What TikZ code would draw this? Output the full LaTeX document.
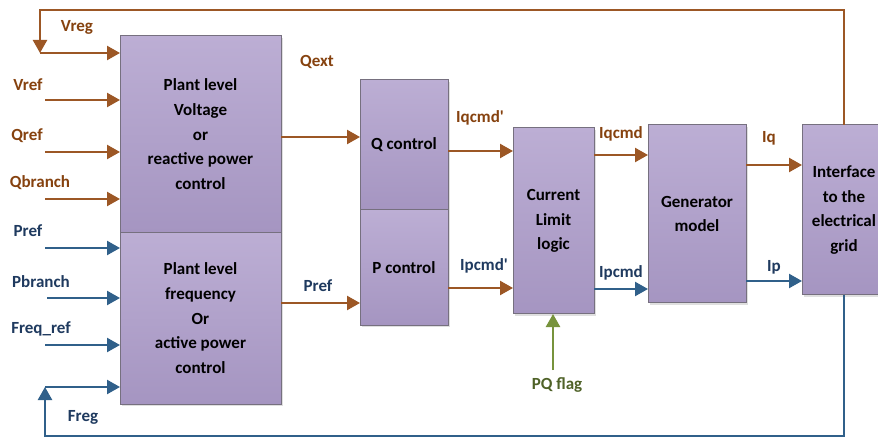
\documentclass[tikz,border=0pt]{standalone}
\usepackage{fontspec}
\setmainfont{Carlito}
\usetikzlibrary{arrows.meta,shadows}

\definecolor{arrbrown}{HTML}{9C5725}
\definecolor{txtbrown}{HTML}{86420F}
\definecolor{arrblue}{HTML}{30608A}
\definecolor{txtblue}{HTML}{1F3A5F}
\definecolor{arrgreen}{HTML}{77933C}
\definecolor{txtgreen}{HTML}{4F6228}
\definecolor{boxtop}{HTML}{BCAED4}
\definecolor{boxbot}{HTML}{A595C1}
\definecolor{boxline}{HTML}{76707F}

\tikzset{
  blk/.style={rectangle, anchor=north west, inner sep=0pt, outer sep=0pt,
    draw=boxline, line width=1pt, top color=boxtop, bottom color=boxbot,
    drop shadow={shadow xshift=2pt, shadow yshift=-2pt, opacity=0.25, fill=gray},
    align=center, font=\fontsize{17}{24.7}\selectfont\bfseries},
  wire/.style={line width=2.4pt},
  tip/.style={-{Triangle[length=13pt,width=14pt]}},
  qwire/.style={wire, arrbrown},
  pwire/.style={wire, arrblue},
  fwire/.style={wire, arrgreen},
  lbl/.style={anchor=base, inner sep=0pt, font=\fontsize{17}{20}\selectfont\bfseries},
  qlbl/.style={lbl, text=txtbrown},
  plbl/.style={lbl, text=txtblue},
  flbl/.style={lbl, text=txtgreen},
}

\begin{document}
\begin{tikzpicture}[x=1pt, y=-1pt]
\useasboundingbox (0,0) rectangle (878,438);
\clip (0,0) rectangle (878,438);
\fill[white] (0,0) rectangle (878,438);

% blocks
\node[blk, minimum width=161pt, minimum height=196.5pt] (pv) at (120,36)
  {Plant level\\Voltage\\or\\reactive power\\control};
\node[blk, minimum width=161pt, minimum height=171.5pt] (pf) at (120,232.5)
  {Plant level\\frequency\\Or\\active power\\control};
\node[blk, minimum width=88pt, minimum height=130pt] (qc) at (360,80) {Q control};
\node[blk, minimum width=88pt, minimum height=115pt] (pc) at (360,210) {P control};
\node[blk, minimum width=81pt, minimum height=186pt] (cl) at (513,128)
  {Current\\Limit\\logic};
\node[blk, minimum width=98pt, minimum height=178pt] (gm) at (648,125)
  {Generator\\model};
\node[blk, minimum width=84pt, minimum height=170pt] (ig) at (802,125)
  {Interface\\to the\\electrical\\grid};

% free ends and signal levels
\coordinate (vcorner) at (40,10);
\coordinate (vfb) at (40,53);
\coordinate (fcorner) at (45,436);
\coordinate (ffb) at (45,387);
\coordinate (invref) at (45,100);
\coordinate (inqref) at (45,152);
\coordinate (inqbr) at (45,199);
\coordinate (inpref) at (45,248);
\coordinate (inpbr) at (47,298);
\coordinate (infref) at (45,345);
\coordinate (pqf) at (553,370);
\path (0,137) coordinate (yqext) (0,303) coordinate (ypref)
      (0,151) coordinate (yiqa) (0,288) coordinate (yipa)
      (0,155) coordinate (yiqb) (0,289) coordinate (yipb)
      (0,165) coordinate (yiq)  (0,281) coordinate (yip);

% voltage feedback
\draw[qwire, tip] (ig.north) |- (vcorner) -- (vfb);
\draw[qwire, tip] (vfb) -- (vfb -| pv.west);
% reactive inputs
\draw[qwire, tip] (invref) -- (invref -| pv.west);
\draw[qwire, tip] (inqref) -- (inqref -| pv.west);
\draw[qwire, tip] (inqbr) -- (inqbr -| pv.west);
% active inputs
\draw[pwire, tip] (inpref) -- (inpref -| pf.west);
\draw[pwire, tip] (inpbr) -- (inpbr -| pf.west);
\draw[pwire, tip] (infref) -- (infref -| pf.west);
% frequency feedback
\draw[pwire, tip] (ig.south) |- (fcorner) -- (ffb);
\draw[pwire, tip] (ffb) -- (ffb -| pf.west);

% forward path
\draw[qwire, tip] (pv.east |- yqext) -- (qc.west |- yqext);
\draw[qwire, tip] (pf.east |- ypref) -- (pc.west |- ypref);
\draw[qwire, tip] (qc.east |- yiqa) -- (cl.west |- yiqa);
\draw[qwire, tip] (pc.east |- yipa) -- (cl.west |- yipa);
\draw[qwire, tip] (cl.east |- yiqb) -- (gm.west |- yiqb);
\draw[pwire, tip] (cl.east |- yipb) -- (gm.west |- yipb);
\draw[qwire, tip] (gm.east |- yiq) -- (ig.west |- yiq);
\draw[pwire, tip] (gm.east |- yip) -- (ig.west |- yip);
\draw[fwire, tip] (pqf) -- (pqf |- cl.south);

% signal labels
\node[qlbl] (lvreg) at (77,32) {Vreg};
\node[qlbl] (lvref) at (28,91) {Vref};
\node[qlbl] (lqref) at (27,141) {Qref};
\node[qlbl] (lqbr) at (40,188) {Qbranch};
\node[plbl] (lpref) at (28,237) {Pref};
\node[plbl] (lpbr) at (41,288) {Pbranch};
\node[plbl] (lfref) at (41,333) {Freq\_ref};
\node[plbl] (lfreg) at (83,421) {Freg};
\node[qlbl] (lqext) at (317,67) {Qext};
\node[plbl] (lprefb) at (318,292) {Pref};
\node[qlbl] (liqa) at (480,123) {Iqcmd\textquotesingle};
\node[plbl] (lipa) at (484,271) {Ipcmd\textquotesingle};
\node[qlbl] (liqb) at (621,139) {Iqcmd};
\node[plbl] (lipb) at (621,278) {Ipcmd};
\node[qlbl] (liq) at (769,143) {Iq};
\node[plbl] (lip) at (774,272) {Ip};
\node[flbl] (lpq) at (557,389) {PQ flag};
\end{tikzpicture}
\end{document}
